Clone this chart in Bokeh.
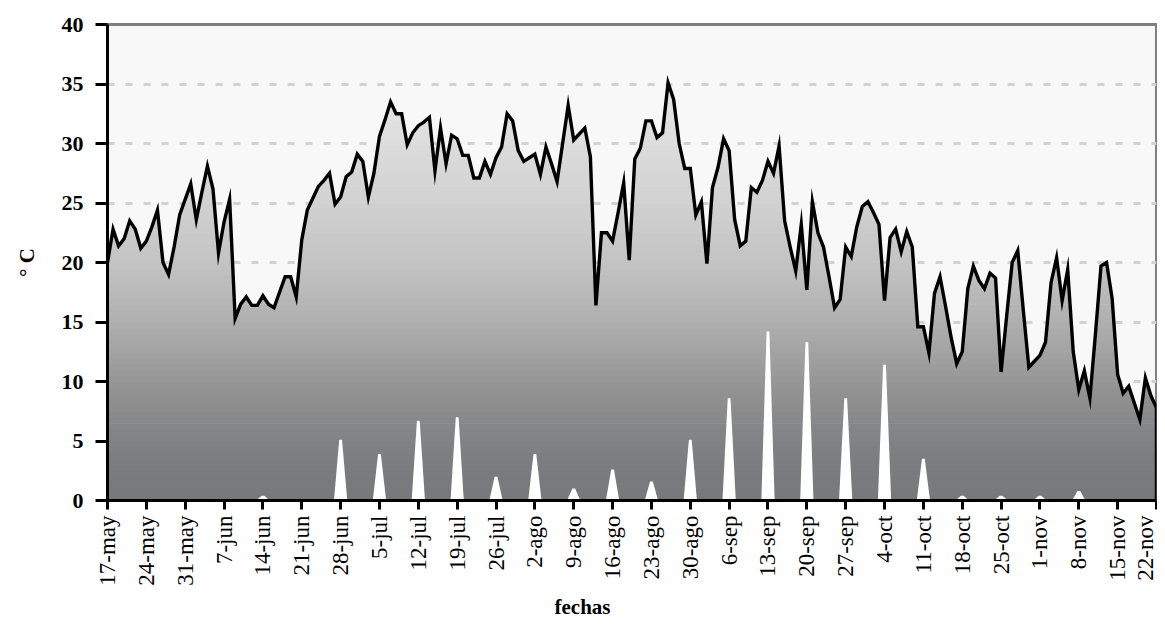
import numpy as np
from bokeh.plotting import figure
from bokeh.models import Range1d, FixedTicker, Title
from bokeh.embed import file_html
from bokeh.resources import INLINE

# ---------------- data ----------------
temp = [
    20.0, 22.8, 21.4, 22.0, 23.5, 22.8, 21.2, 21.8, 23.0, 24.4,
    20.0, 19.0, 21.3, 24.0, 25.3, 26.6, 23.6, 25.9, 28.1, 26.2,
    20.8, 23.4, 25.3, 15.3, 16.5, 17.1, 16.4, 16.4, 17.2, 16.5,
    16.2, 17.5, 18.8, 18.8, 17.1, 21.9, 24.4, 25.4, 26.4, 26.9,
    27.5, 24.9, 25.5, 27.2, 27.6, 29.1, 28.5, 25.5, 27.5, 30.6,
    32.0, 33.5, 32.5, 32.5, 29.9, 30.9, 31.5, 31.8, 32.2, 27.7,
    31.3, 28.3, 30.7, 30.4, 29.0, 29.0, 27.1, 27.1, 28.5, 27.4,
    28.8, 29.7, 32.5, 31.9, 29.4, 28.5, 28.8, 29.1, 27.4, 29.7,
    28.3, 26.8, 30.0, 33.2, 30.3, 30.8, 31.3, 28.9, 16.4, 22.5,
    22.5, 21.8, 24.2, 26.7, 20.2, 28.7, 29.6, 31.9, 31.9, 30.5,
    30.9, 35.1, 33.7, 30.0, 27.9, 27.9, 24.0, 25.1, 19.9, 26.3,
    28.0, 30.4, 29.4, 23.6, 21.4, 21.8, 26.3, 25.9, 26.9, 28.5,
    27.5, 29.8, 23.5, 21.3, 19.3, 23.2, 17.7, 25.1, 22.5, 21.3,
    18.8, 16.2, 16.9, 21.3, 20.5, 23.0, 24.7, 25.1, 24.2, 23.2,
    16.8, 22.1, 22.8, 20.9, 22.6, 21.3, 14.6, 14.6, 12.4, 17.4,
    18.8, 16.3, 13.7, 11.5, 12.5, 17.8, 19.7, 18.5, 17.8, 19.1,
    18.7, 10.8, 15.5, 20.0, 21.0, 16.0, 11.2, 11.7, 12.2, 13.3,
    18.3, 20.4, 16.8, 19.4, 12.5, 9.3, 10.9, 8.6, 14.0, 19.7,
    20.0, 17.0, 10.6, 9.0, 9.6, 8.2, 6.8, 10.3, 8.8, 7.8,
]

week_labels = [
    "17-may", "24-may", "31-may", "7-jun", "14-jun", "21-jun", "28-jun",
    "5-jul", "12-jul", "19-jul", "26-jul", "2-ago", "9-ago", "16-ago",
    "23-ago", "30-ago", "6-sep", "13-sep", "20-sep", "27-sep", "4-oct",
    "11-oct", "18-oct", "25-oct", "1-nov", "8-nov", "15-nov", "22-nov",
]

rain = [
    0, 0, 0, 0, 0.4, 0, 5.1,
    3.9, 6.7, 7.0, 2.0, 3.9, 1.0, 2.6,
    1.6, 5.1, 8.6, 14.2, 13.3, 8.6, 11.4,
    3.5, 0.4, 0.4, 0.4, 0.8, 0, 0,
]

y_ticks = [0, 5, 10, 15, 20, 25, 30, 35, 40]
grid_ticks = [5, 10, 15, 20, 25, 30, 35]

# ---------------- styles ----------------
FONT = "Liberation Serif"
grad_levels = [0, 3, 6, 9, 12, 15, 20, 25, 30, 35, 40]
grad_rgb = [(118, 120, 124), (123, 124, 127), (132, 133, 135), (145, 145, 146),
            (160, 160, 160), (175, 175, 175), (195, 195, 195), (209, 209, 209),
            (220, 220, 220), (231, 231, 231), (240, 240, 240)]


def grad_color(v):
    r = np.interp(v, grad_levels, [c[0] for c in grad_rgb])
    g = np.interp(v, grad_levels, [c[1] for c in grad_rgb])
    b = np.interp(v, grad_levels, [c[2] for c in grad_rgb])
    return "#%02x%02x%02x" % (int(round(r)), int(round(g)), int(round(b)))


days = np.arange(len(temp), dtype=float)
t = np.array(temp, dtype=float)
week_days = [7 * i for i in range(len(week_labels))]

p = figure(width=1157, height=627, output_backend="svg", toolbar_location=None,
           x_range=Range1d(0, days[-1]), y_range=Range1d(0, 40),
           min_border_left=107, min_border_right=1, min_border_top=24,
           min_border_bottom=127)

p.background_fill_color = "#f8f8f8"
p.border_fill_color = "white"
p.outline_line_color = "#808080"
p.outline_line_width = 3

# grid
p.xgrid.visible = False
p.ygrid.ticker = FixedTicker(ticks=grid_ticks)
p.ygrid.grid_line_color = "#d2d2d2"
p.ygrid.grid_line_width = 3
p.ygrid.grid_line_dash = "7 11"

# gradient-filled area under the temperature line (horizontal bands)
step = 0.5
levels = np.arange(0, 40 + step / 2, step)
cross = []
for i in range(len(t) - 1):
    a, b = t[i], t[i + 1]
    lo, hi = min(a, b), max(a, b)
    for L in levels[(levels > lo) & (levels < hi)]:
        cross.append(i + (L - a) / (b - a))
xd = np.unique(np.concatenate([days, np.array(cross)]))
yd = np.interp(xd, days, t)
eps = 0.06
for k in range(len(levels) - 1):
    y0, y1 = levels[k], levels[k + 1]
    if y0 >= t.max():
        break
    top = np.clip(yd, y0, y1)
    bottom = np.where(yd > y0, max(y0 - eps, 0), y0)
    p.varea(x=xd, y1=bottom, y2=top, fill_color=grad_color((y0 + y1) / 2))

# rain spikes (white)
xs, ys = [], []
for d, v in zip(week_days, rain):
    if v > 0:
        xs.append([d - 1.2, d - 0.25, d + 0.25, d + 1.2])
        ys.append([0, v, v, 0])
p.patches(xs, ys, fill_color="white", line_color=None)

# temperature line
p.line(days, t, line_color="black", line_width=3.4, line_join="miter")
p.segment(x0=[days[-1]], y0=[t[-1]], x1=[days[-1]], y1=[0],
          line_color="black", line_width=3.4)

# axes
for ax in (p.xaxis, p.yaxis):
    ax.axis_line_color = "black"
    ax.axis_line_width = 3
    ax.major_tick_line_color = "black"
    ax.major_tick_line_width = 3
    ax.major_tick_in = 0
    ax.minor_tick_line_color = None
    ax.major_label_text_font = FONT
    ax.major_label_text_color = "black"
    ax.axis_label_text_font = FONT
    ax.axis_label_text_font_style = "bold"
    ax.axis_label_text_color = "black"
    ax.axis_label_text_font_size = "21px"

p.yaxis.ticker = FixedTicker(ticks=y_ticks)
p.yaxis.major_tick_out = 12
p.yaxis.major_label_standoff = 12
p.yaxis.major_label_text_font_size = "22px"
p.yaxis.major_label_text_font_style = "bold"
p.yaxis.axis_label = "° C"
p.yaxis.axis_label_standoff = 20

p.xaxis.ticker = FixedTicker(ticks=week_days)
p.xaxis.major_label_overrides = {d: lab for d, lab in zip(week_days, week_labels)}
p.xaxis.major_label_orientation = np.pi / 2
p.xaxis.major_tick_out = 9
p.xaxis.major_label_standoff = 6
p.xaxis.major_label_text_font_size = "23px"

p.add_layout(Title(text="fechas", align="left", offset=447, standoff=8,
                   text_font=FONT, text_font_style="bold",
                   text_font_size="21px", text_color="black"), "below")

open("out.html", "w").write(file_html(p, INLINE))
